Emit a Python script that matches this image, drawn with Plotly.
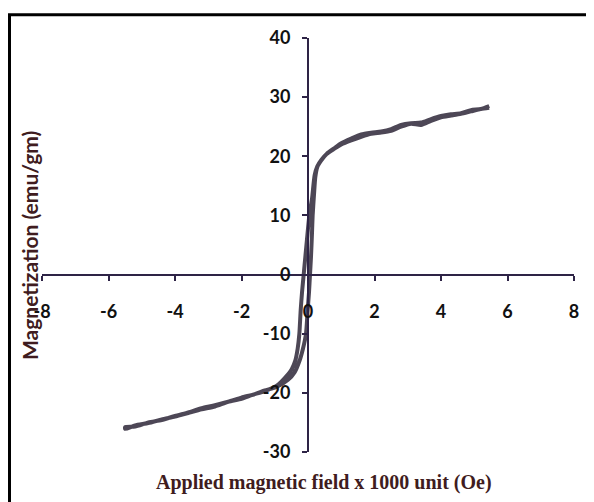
import plotly.graph_objects as go

# ---- data ----
# descending branch (from +H saturation to -H), left branch near origin
h_down = [5.45, 5.2, 4.9, 4.6, 4.3, 4.0, 3.7, 3.4, 3.1, 2.8, 2.5, 2.2, 1.9, 1.6, 1.3, 1.0,
          0.8, 0.56, 0.4, 0.28, 0.2, 0.12, 0.04, -0.03, -0.08, -0.13, -0.18, -0.22, -0.26,
          -0.31, -0.38, -0.49, -0.7, -0.94, -1.3, -1.7, -2.0, -2.4, -2.8, -3.2, -3.6, -4.0,
          -4.4, -4.8, -5.2, -5.5]
m_down = [28.5, 28.0, 27.8, 27.3, 27.1, 26.8, 26.3, 25.7, 25.6, 25.3, 24.6, 24.2, 24.0, 23.7,
          23.0, 22.2, 21.4, 20.4, 19.4, 18.3, 16.8, 12.8, 10.0, 6.0, 3.0, 0.0, -3.0, -6.0, -10.0,
          -12.5, -14.5, -16.0, -17.5, -18.8, -19.7, -20.4, -21.0, -21.5, -22.3, -22.8, -23.4,
          -24.0, -24.5, -25.1, -25.5, -26.1]
# ascending branch (from -H saturation to +H), right branch near origin
h_up = [-5.5, -5.2, -4.8, -4.4, -4.0, -3.6, -3.2, -2.8, -2.4, -2.0, -1.6, -1.3, -0.94, -0.6,
        -0.4, -0.25, -0.15, -0.06, -0.01, 0.03, 0.06, 0.09, 0.12, 0.14, 0.18, 0.22, 0.28, 0.4,
        0.56, 0.8, 1.0, 1.3, 1.6, 1.9, 2.2, 2.5, 2.8, 3.1, 3.4, 3.7, 4.0, 4.3, 4.6, 4.9, 5.2, 5.45]
m_up = [-25.8, -25.7, -25.0, -24.6, -23.9, -23.3, -22.6, -22.1, -21.5, -20.8, -20.2, -19.6,
        -19.0, -17.8, -16.5, -14.5, -12.5, -10.0, -6.0, -3.0, 0.0, 3.0, 7.0, 10.0, 13.5, 16.5,
        18.2, 19.3, 20.4, 21.3, 22.0, 22.7, 23.3, 23.8, 24.0, 24.3, 25.0, 25.5, 25.3, 26.0,
        26.6, 26.9, 27.2, 27.6, 28.0, 28.2]

x_tickvals = [-8, -6, -4, -2, 0, 2, 4, 6, 8]
x_ticktext = ["-8", "-6", "-4", "-2", "0", "2", "4", "6", "8"]
y_tickvals = [-30, -20, -10, 0, 10, 20, 30, 40]
y_ticktext = ["-30", "-20", "-10", "0", "10", "20", "30", "40"]

x_title = "Applied magnetic field x 1000 unit (Oe)"
y_title = "Magnetization (emu/gm)"

# ---- layout geometry (page has an 8px body margin) ----
OFF = 8
W, H = 594 - OFF, 502 - OFF
# target page pixels: plot x 42..574, y 38..452
ML, MR, MT, MB = 42 - OFF, 20, 38 - OFF, 50
PW, PH = W - ML - MR, H - MT - MB


def px(x):
    return (x - OFF - ML) / PW


def py(y):
    return (OFF + H - MB - y) / PH


curve_color = "#4d4756"
axis_color = "#2e2446"
title_color = "#3f1c20"

fig = go.Figure()
h_loop = h_down + h_up
m_loop = m_down + m_up
fig.add_trace(go.Scatter(x=h_loop, y=m_loop, mode="lines",
                         line=dict(color=curve_color, width=4, shape="spline", smoothing=0.6),
                         showlegend=False, hoverinfo="skip"))

tick_font = dict(family="Lato", size=18, color="#111111", weight="bold")

fig.update_layout(
    width=W, height=H,
    margin=dict(l=ML, r=MR, t=MT, b=MB, autoexpand=False),
    paper_bgcolor="white", plot_bgcolor="white",
    xaxis=dict(range=[-8, 8], tickvals=x_tickvals, ticktext=x_ticktext,
               showgrid=False, zeroline=False, showline=True, linecolor=axis_color, linewidth=2,
               ticks="outside", ticklen=5, tickwidth=2, tickcolor=axis_color,
               anchor="free", position=30 / 70, tickfont=tick_font, ticklabelstandoff=16),
    yaxis=dict(range=[-30, 40], tickvals=y_tickvals, ticktext=y_ticktext,
               showgrid=False, zeroline=False, showline=True, linecolor=axis_color, linewidth=2,
               ticks="outside", ticklen=5, tickwidth=2, tickcolor=axis_color,
               anchor="free", position=0.5, tickfont=tick_font, ticklabelstandoff=8),
    annotations=[
        dict(text=y_title, xref="paper", yref="paper", x=px(29), y=py(246),
             textangle=-90, showarrow=False, xanchor="center", yanchor="middle",
             font=dict(family="Lato", size=21, color=title_color, weight="bold")),
        dict(text=x_title, xref="paper", yref="paper", x=px(324), y=py(482),
             showarrow=False, xanchor="center", yanchor="middle",
             font=dict(family="Liberation Serif", size=20, color=title_color, weight="bold")),
    ],
    shapes=[
        dict(type="rect", xref="paper", yref="paper", x0=px(9.5), x1=px(620),
             y0=py(530), y1=py(14.7), line=dict(color="black", width=3), layer="above"),
    ],
)

fig.write_html("out.html")
